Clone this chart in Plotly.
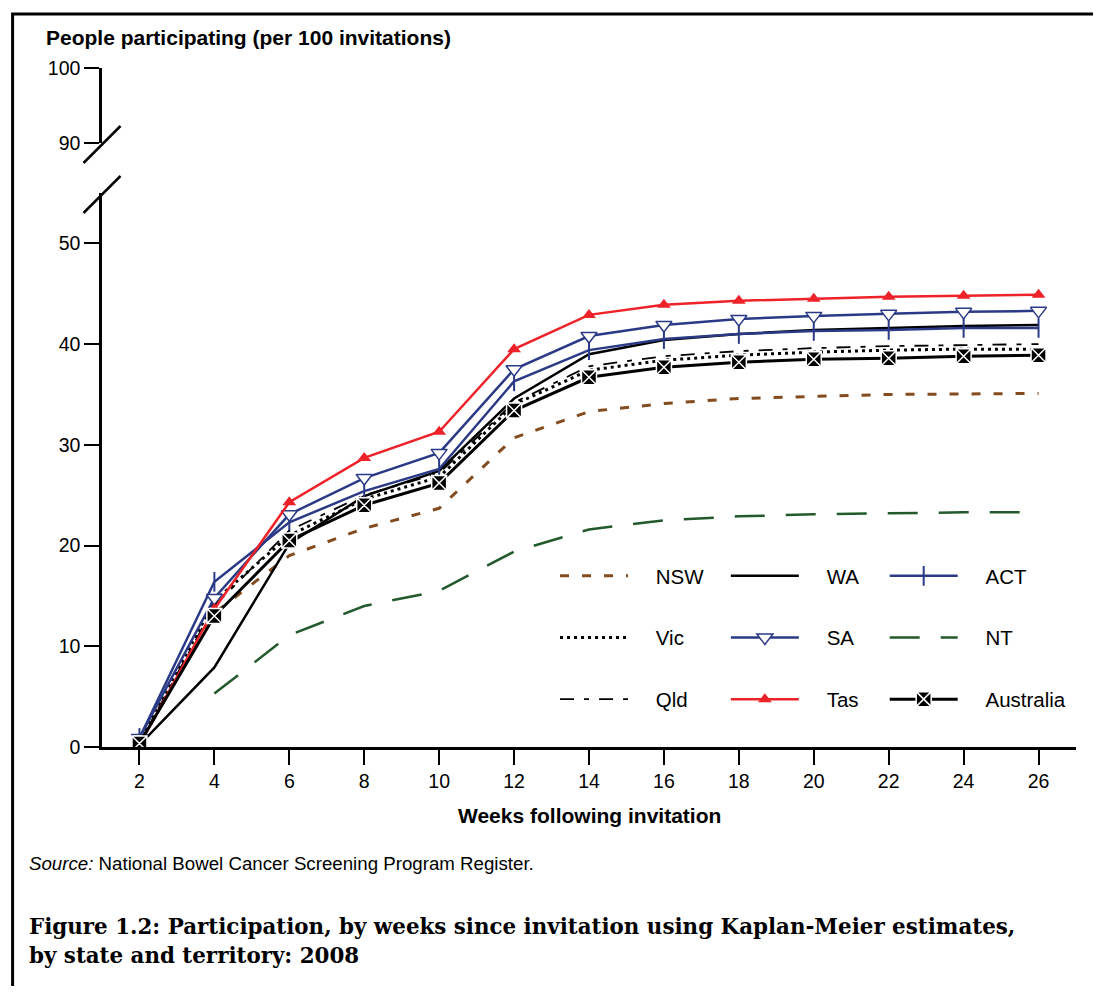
import plotly.graph_objects as go

weeks = [2, 4, 6, 8, 10, 12, 14, 16, 18, 20, 22, 24, 26]
x_ticks = [2, 4, 6, 8, 10, 12, 14, 16, 18, 20, 22, 24, 26]
y_ticks_low = [0, 10, 20, 30, 40, 50]
y_ticks_high = [90, 100]

nsw = [0.3, 13.3, 19.0, 21.7, 23.7, 30.7, 33.3, 34.1, 34.6, 34.8, 35.0, 35.05, 35.1]
vic = [0.4, 14.5, 21.0, 24.6, 26.8, 34.0, 37.4, 38.4, 38.9, 39.2, 39.4, 39.5, 39.5]
qld = [0.4, 14.0, 21.5, 25.0, 27.2, 34.2, 37.8, 38.8, 39.3, 39.6, 39.8, 39.9, 40.0]
wa = [0.2, 7.9, 20.2, 24.9, 27.4, 34.6, 39.0, 40.4, 41.0, 41.4, 41.6, 41.8, 41.9]
sa = [0.9, 14.8, 23.1, 26.7, 29.2, 37.5, 40.8, 41.9, 42.5, 42.8, 43.0, 43.2, 43.3]
tas = [0.2, 13.7, 24.3, 28.7, 31.3, 39.5, 42.9, 43.9, 44.3, 44.5, 44.7, 44.8, 44.9]
act = [0.9, 16.4, 22.3, 25.4, 27.6, 36.3, 39.4, 40.5, 41.0, 41.3, 41.4, 41.6, 41.6]
nt = [None, 5.3, 11.1, 14.0, 15.5, 19.4, 21.6, 22.5, 22.9, 23.1, 23.2, 23.3, 23.3]
australia = [0.35, 13.0, 20.5, 24.0, 26.2, 33.4, 36.7, 37.7, 38.2, 38.5, 38.6, 38.8, 38.9]

FONT = "Liberation Sans, Arial, sans-serif"
SERIF = "DejaVu Serif, Liberation Serif, serif"
NAVY = "#2B3A86"
BROWN = "#844C1E"
GREEN = "#235A2B"
RED = "#EE2229"

OFF = 8  # page body margin; target coordinates below are screen pixels
W, H = 1093, 978
# plot area in screen pixels
X_LEFT, X_RIGHT = 101.5, 1076.5
Y_BOTTOM, Y_TOP = 747, 68
L = X_LEFT - OFF
R = W - (X_RIGHT - OFF)
T = Y_TOP - OFF
B = H - (Y_BOTTOM - OFF)
PW = X_RIGHT - X_LEFT
PH = Y_BOTTOM - Y_TOP


def px(xs):
    return (xs - X_LEFT) / PW


def py(ys):
    return (Y_BOTTOM - ys) / PH


def spaced(name):
    return "\u00a0\u00a0\u00a0\u00a0" + name


fig = go.Figure()

series = [
    ("NSW", nsw, dict(color=BROWN, width=3, dash="9px,13px"), None, "legend"),
    ("WA", wa, dict(color="black", width=2.5), None, "legend2"),
    ("ACT", act, dict(color=NAVY, width=2.5),
     dict(symbol="line-ns", size=14, line=dict(color=NAVY, width=2)), "legend3"),
    ("Vic", vic, dict(color="black", width=3, dash="3px,4px"), None, "legend"),
    ("SA", sa, dict(color=NAVY, width=2.5),
     dict(symbol="triangle-down", size=14, color="white", line=dict(color=NAVY, width=1.5)), "legend2"),
    ("NT", nt, dict(color=GREEN, width=2.5, dash="30px,21px"), None, "legend3"),
    ("Qld", qld, dict(color="black", width=1.8, dash="14px,10px,5px,10px"), None, "legend"),
    ("Tas", tas, dict(color=RED, width=2.5),
     dict(symbol="triangle-up", size=12, color=RED, line=dict(color=RED, width=0)), "legend2"),
    ("Australia", australia, dict(color="black", width=3),
     dict(symbol="square-x", size=15, color="black", line=dict(color="white", width=1.5)), "legend3"),
]

for name, vals, line, marker, leg in series:
    kw = dict(x=weeks, y=vals, name=spaced(name), line=line, legend=leg,
              legendgroup=name, connectgaps=False, hoverinfo="x+y+name")
    if marker is not None:
        kw["mode"] = "lines+markers"
        kw["marker"] = marker
    else:
        kw["mode"] = "lines"
    fig.add_trace(go.Scatter(**kw))

# empty trace so the upper axis segment is drawn
fig.add_trace(go.Scatter(x=[None], y=[None], yaxis="y2", showlegend=False, hoverinfo="skip"))

axis_common = dict(showline=True, linecolor="black", linewidth=2.5, ticks="outside",
                   tickcolor="black", tickwidth=2, showgrid=False, zeroline=False,
                   tickfont=dict(family=FONT, size=19.5, color="black"))

fig.update_layout(
    width=W, height=H, autosize=False,
    margin=dict(l=L, r=R, t=T, b=B, pad=0),
    paper_bgcolor="white", plot_bgcolor="white",
    font=dict(family=FONT, size=19, color="black"),
    xaxis=dict(range=[1, 27], tickvals=x_ticks, ticklen=15, anchor="y", **axis_common),
    yaxis=dict(range=[0, 55], tickvals=y_ticks_low, domain=[0, py(193)], ticklen=15,
               anchor="x", **axis_common),
    yaxis2=dict(range=[90, 100], tickvals=y_ticks_high, domain=[py(143), 1], ticklen=15,
                anchor="x", **axis_common),
    hovermode="closest",
)

legend_common = dict(orientation="v", yanchor="top", xanchor="left", bgcolor="rgba(0,0,0,0)",
                     font=dict(family=FONT, size=20.5, color="black"), itemwidth=68,
                     traceorder="grouped", tracegroupgap=32, itemclick=False)
fig.update_layout(
    legend=dict(x=px(555), y=py(556), **legend_common),
    legend2=dict(x=px(726), y=py(556), **legend_common),
    legend3=dict(x=px(885), y=py(556), **legend_common),
)

shapes = [
    # axis break marks
    dict(type="line", xref="paper", yref="paper", x0=px(83), y0=py(163), x1=px(120), y1=py(126),
         line=dict(color="black", width=2.5)),
    dict(type="line", xref="paper", yref="paper", x0=px(83), y0=py(213), x1=px(120), y1=py(176),
         line=dict(color="black", width=2.5)),
    # frame
    dict(type="rect", xref="paper", yref="paper", x0=px(12), y0=py(14), x1=px(1130), y1=py(1010),
         line=dict(color="black", width=3), fillcolor="rgba(0,0,0,0)", layer="above"),
]
fig.update_layout(shapes=shapes)

annotations = [
    dict(text="<b>People participating (per 100 invitations)</b>", x=px(43), y=py(38),
         xanchor="left", yanchor="middle", font=dict(family=FONT, size=21)),
    dict(text="<b>Weeks following invitation</b>", x=0.5, y=py(815),
         xanchor="center", yanchor="middle", font=dict(family=FONT, size=21)),
    dict(text="<i>Source:</i> National Bowel Cancer Screening Program Register.", x=px(26), y=py(863),
         xanchor="left", yanchor="middle", font=dict(family=FONT, size=18.7)),
    dict(text="<b>Figure 1.2: Participation, by weeks since invitation using Kaplan-Meier estimates,</b>",
         x=px(26), y=py(926), xanchor="left", yanchor="middle",
         font=dict(family=SERIF, size=21.4)),
    dict(text="<b>by state and territory: 2008</b>",
         x=px(26), y=py(955), xanchor="left", yanchor="middle",
         font=dict(family=SERIF, size=21.4)),
]
for a in annotations:
    a.update(xref="paper", yref="paper", showarrow=False)
fig.update_layout(annotations=annotations)

fig.write_html("out.html")
